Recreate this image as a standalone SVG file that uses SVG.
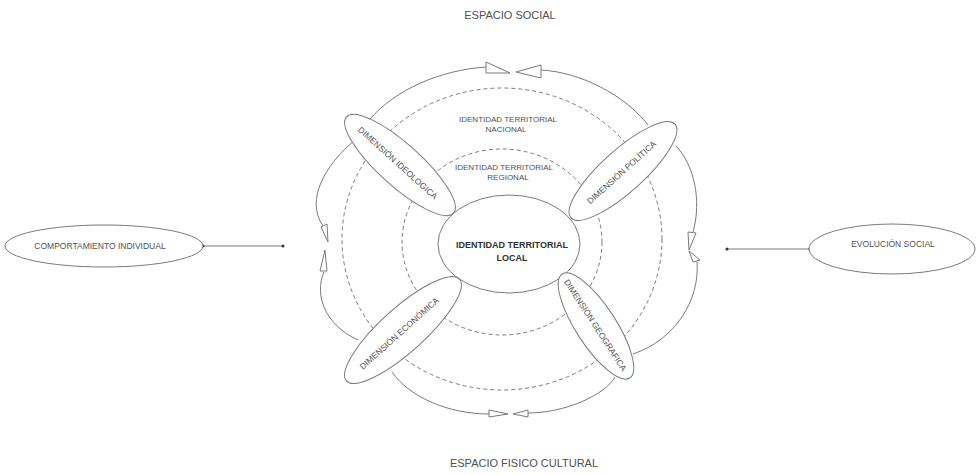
<svg xmlns="http://www.w3.org/2000/svg" width="980" height="475" viewBox="0 0 980 475">
<style>
.ln{fill:none;stroke:#7a7a7a;stroke-width:1}
.ds{fill:none;stroke:#7a7a7a;stroke-width:1;stroke-dasharray:4,3}
.nd{fill:#fff;stroke:#7a7a7a;stroke-width:1}
.ar{fill:#fff;stroke:#7a7a7a;stroke-width:1;stroke-linejoin:miter}
.t{font-family:"Liberation Sans",Arial,sans-serif;fill:#505050;text-anchor:middle}
.s8{font-size:8px}
.s85{font-size:8.5px}
.s11{font-size:11px}
.b{font-weight:bold;font-size:9px;fill:#303030}
.dot{fill:#333}
</style>
<rect width="980" height="475" fill="#fff"/>

<g id="titles">
<text class="t s11" x="510" y="19">ESPACIO SOCIAL</text>
<text class="t s11" x="524" y="467">ESPACIO FISICO CULTURAL</text>
</g>

<g id="rings">
<ellipse class="ds" cx="502" cy="239" rx="160" ry="151"/>
<ellipse class="ds" cx="502" cy="242" rx="100" ry="93"/>
<text class="t s8" x="508" y="122">IDENTIDAD TERRITORIAL</text>
<text class="t s8" x="506" y="132">NACIONAL</text>
<text class="t s8" x="504" y="170">IDENTIDAD TERRITORIAL</text>
<text class="t s8" x="508" y="179.5">REGIONAL</text>
</g>

<g id="connectors">
<path class="ln" d="M370,119 C395,90 440,70 486,67"/>
<path class="ln" d="M541,70 C580,72 625,95 648,125"/>
<path class="ln" d="M355,140 C325,165 305,200 323,226"/>
<path class="ln" d="M324,272 C314,295 325,325 358,340"/>
<path class="ln" d="M676,146 C694,165 702,200 693,232"/>
<path class="ln" d="M697,262 C700,300 675,340 633,354"/>
<path class="ln" d="M392,372 C410,398 450,414 489,414"/>
<path class="ln" d="M528,413 C565,413 605,395 615,377"/>
<polygon class="ar" points="486,62 486,73 510,73"/>
<polygon class="ar" points="516,72 541,65 541,78"/>
<polygon class="ar" points="489,410 489,417 508,414"/>
<polygon class="ar" points="513,414 528,410 528,417"/>
<polygon class="ar" points="321,227 327,224 328,242"/>
<polygon class="ar" points="325,250 320,271 327,271"/>
<polygon class="ar" points="688,232 696,233 689,250"/>
<polygon class="ar" points="689,251 693,262 700,260"/>
<line class="ln" x1="203" y1="246" x2="283" y2="246"/>
<circle class="dot" cx="203" cy="246" r="1.5"/>
<circle class="dot" cx="283" cy="246" r="1.5"/>
<line class="ln" x1="727" y1="249" x2="810" y2="249"/>
<circle class="dot" cx="727" cy="249" r="1.5"/>
<circle class="dot" cx="810" cy="249" r="1.5"/>
</g>

<g id="local">
<ellipse class="nd" cx="509" cy="244" rx="71" ry="49"/>
<text class="t b" x="512" y="248">IDENTIDAD TERRITORIAL</text>
<text class="t b" x="512" y="260.5">LOCAL</text>
</g>

<g id="ideologica" transform="translate(400,165) rotate(42)">
<ellipse class="nd" cx="0" cy="0" rx="72" ry="21"/>
<text class="t s85" x="-3" y="3">DIMENSIÓN IDEOLOGICA</text>
</g>

<g id="politica" transform="translate(623,171) rotate(-42)">
<ellipse class="nd" cx="0" cy="0" rx="70" ry="21"/>
<text class="t s85" x="-2" y="3">DIMENSIÓN POLÍTICA</text>
</g>

<g id="economica" transform="translate(403,330) rotate(-42)">
<ellipse class="nd" cx="0" cy="0" rx="76" ry="22"/>
<text class="t s85" x="-5" y="3">DIMENSIÓN ECONÓMICA</text>
</g>

<g id="geografica" transform="translate(596,326) rotate(57)">
<ellipse class="nd" cx="0" cy="0" rx="62" ry="20"/>
<text class="t s85" x="-1" y="3">DIMENSIÓN GEOGRAFICA</text>
</g>

<g id="comportamiento">
<ellipse class="nd" cx="104" cy="246" rx="99" ry="21"/>
<text class="t s85" x="100" y="249">COMPORTAMIENTO INDIVIDUAL</text>
</g>

<g id="evolucion">
<ellipse class="nd" cx="892" cy="249" rx="83" ry="25"/>
<text class="t s85" x="893" y="247">EVOLUCIÓN SOCIAL</text>
</g>
</svg>
